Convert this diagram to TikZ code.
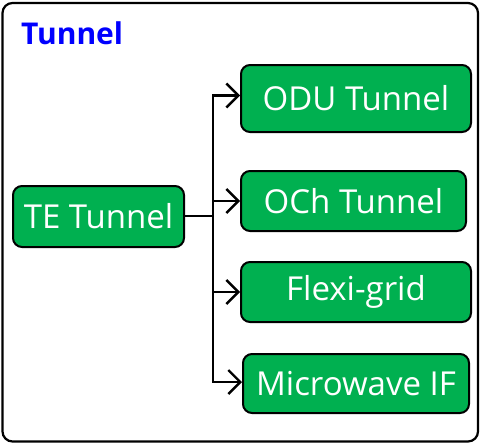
\documentclass[tikz,border=0pt]{standalone}
\usepackage{fontspec}
\setmainfont{Open Sans}
\usetikzlibrary{arrows.meta}
\definecolor{boxgreen}{HTML}{00B050}
\definecolor{titleblue}{HTML}{0000FF}
\tikzset{
  gbox/.style={draw=black, line width=2pt, fill=boxgreen, rounded corners=9pt,
    text=white, inner sep=0pt, anchor=center, font=\fontsize{33}{38}\selectfont},
  conn/.style={draw=black, line width=2.4pt},
  arr/.style={conn, -{Straight Barb[length=12pt,width=24pt,line width=2.4pt]}},
}
\begin{document}
\begin{tikzpicture}[x=1pt,y=-1pt]
\useasboundingbox (0,0) rectangle (481,444);
\draw[line width=2.2pt, rounded corners=10pt] (2.5,3) rectangle (478,441.5);
\node[anchor=west, text=titleblue, font=\fontsize{30}{36}\bfseries\selectfont, inner sep=0pt] (title) at (21,33) {Tunnel};
\node[gbox, minimum width=171pt, minimum height=61pt] (te) at (98.5,216.5) {TE Tunnel};
\node[gbox, minimum width=230pt, minimum height=67pt] (odu) at (356,98.5) {ODU Tunnel};
\node[gbox, minimum width=225pt, minimum height=60pt] (och) at (353.5,201) {OCh Tunnel};
\node[gbox, minimum width=230pt, minimum height=60pt] (flex) at (356,292) {Flexi-grid};
\node[gbox, minimum width=226pt, minimum height=59pt] (mw) at (356,383.5) {Microwave IF};
\coordinate (j) at (213,216);
\draw[conn] (te.east |- j) -- (j);
\draw[arr] (j) |- (odu.west |- 0,95.5);
\draw[arr] (j) |- (och.west);
\draw[arr] (j) |- (flex.west);
\draw[arr] (j) |- (mw.west |- 0,382);
\end{tikzpicture}
\end{document}
